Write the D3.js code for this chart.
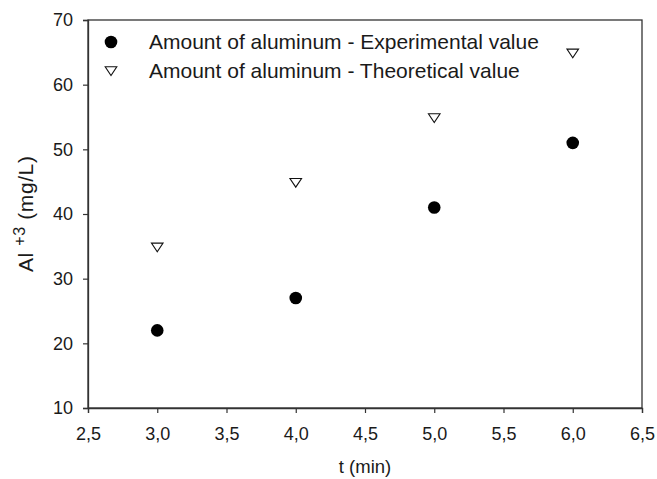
<!DOCTYPE html>
<html>
<head>
<meta charset="utf-8">
<script src="https://cdn.jsdelivr.net/npm/d3@7"></script>
<style>
  body { margin: 0; background: #fff; }
  text { font-family: "Liberation Sans", Arial, sans-serif; fill: #1a1a1a; }
</style>
</head>
<body>
<div id="vis"><svg></svg></div>
<script>
// data
var times = [3.0, 4.0, 5.0, 6.0];
var experimental = [22, 27, 41, 51];
var theoretical = [35, 45, 55, 65];
var xTicks = [2.5, 3.0, 3.5, 4.0, 4.5, 5.0, 5.5, 6.0, 6.5];
var yTicks = [10, 20, 30, 40, 50, 60, 70];
var seriesNames = ["Amount of aluminum - Experimental value", "Amount of aluminum - Theoretical value"];

var margin = {top: 20, right: 15, bottom: 71, left: 88},
    width = 657 - margin.left - margin.right,
    height = 479 - margin.top - margin.bottom;

var root = d3.select("#vis").select("svg")
    .attr("width", 657)
    .attr("height", 479);

var svg = root.append("g")
    .attr("transform", "translate(" + margin.left + "," + margin.top + ")");

var x = d3.scaleLinear().domain([2.5, 6.5]).range([0, width]);
var y = d3.scaleLinear().domain([10, 70]).range([height, 0]);

var fmt = function(d){ return d3.format(".1f")(d).replace(".", ","); };

// frame (top + right, no ticks)
svg.append("rect")
    .attr("width", width).attr("height", height)
    .attr("fill", "none").attr("stroke", "#333").attr("stroke-width", 1.3);

var xAxis = svg.append("g")
    .attr("transform", "translate(0," + height + ")")
    .call(d3.axisBottom(x).tickValues(xTicks).tickFormat(fmt).tickSize(5).tickPadding(14));

var yAxis = svg.append("g")
    .call(d3.axisLeft(y).tickValues(yTicks).tickSize(5).tickPadding(10));

[xAxis, yAxis].forEach(function(a){
  a.select(".domain").attr("stroke", "#333").attr("stroke-width", 1.3);
  a.selectAll(".tick line").attr("stroke", "#333").attr("stroke-width", 1.2);
  a.selectAll(".tick text").style("font-size", "18px").attr("fill", "#1a1a1a");
});

// axis titles
root.append("text")
    .attr("x", margin.left + width / 2).attr("y", 473)
    .attr("text-anchor", "middle")
    .style("font-size", "18.5px")
    .text("t (min)");

var yt = root.append("text")
    .attr("transform", "translate(33,272) rotate(-90)")
    .attr("text-anchor", "start")
    .style("letter-spacing", "0.6px");
yt.append("tspan").style("font-size", "21px").text("Al ");
yt.append("tspan").attr("dy", -8).style("font-size", "16px").text("+3");
yt.append("tspan").attr("dy", 8).style("font-size", "21px").text(" (mg/L)");

// triangle symbol pointing down
var tri = function(cx, cy, s){
  return "M" + (cx - s) + "," + (cy - s * 0.55) + "L" + (cx + s) + "," + (cy - s * 0.55) + "L" + cx + "," + (cy + s * 0.95) + "Z";
};

svg.selectAll(".exp")
    .data(times)
  .enter().append("circle")
    .attr("class", "exp")
    .attr("cx", function(d){ return x(d); })
    .attr("cy", function(d, i){ return y(experimental[i]); })
    .attr("r", 6.3)
    .attr("fill", "#000");

svg.selectAll(".theo")
    .data(times)
  .enter().append("path")
    .attr("class", "theo")
    .attr("d", function(d, i){ return tri(x(d), y(theoretical[i]), 5.8); })
    .attr("fill", "#fff")
    .attr("stroke", "#111")
    .attr("stroke-width", 1.1);

// legend
var lg = root.append("g").attr("transform", "translate(111,42)");
lg.append("circle").attr("cx", 0).attr("cy", 0).attr("r", 6.3).attr("fill", "#000");
lg.append("path").attr("d", tri(0, 28, 5.8)).attr("fill", "#fff").attr("stroke", "#111").attr("stroke-width", 1.1);
lg.selectAll(".lt")
    .data(seriesNames)
  .enter().append("text")
    .attr("x", 38)
    .attr("y", function(d, i){ return i * 29 + 7; })
    .style("font-size", "21px")
    .text(function(d){ return d; });
</script>
</body>
</html>
